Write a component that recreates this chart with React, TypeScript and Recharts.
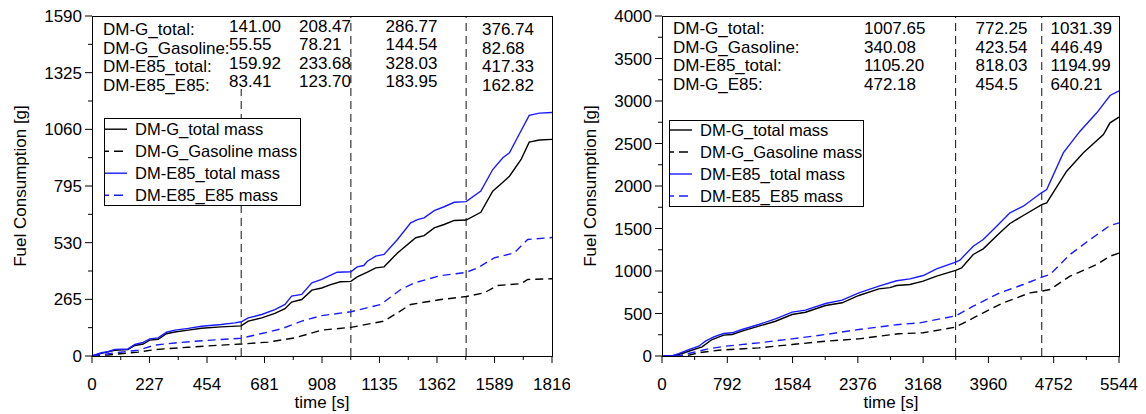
import React from 'react';
import { LineChart, Line, XAxis, YAxis, ReferenceLine } from 'recharts';

// ---- WLTC run (left panel) : [time s, mass g]
const wltcGTotal: [number, number][] = [
  [0, 0], [37, 12], [90, 27], [142, 30], [169, 49], [202, 56], [228, 74], [261, 78], [294, 104], [327, 112],
  [380, 121], [432, 130], [510, 136], [589, 141], [617, 163], [670, 178], [722, 199], [762, 221], [788, 252],
  [828, 264], [868, 308], [907, 318], [942, 334], [981, 347], [1022, 349], [1047, 370], [1087, 392], [1120, 412],
  [1153, 417], [1206, 482], [1278, 553], [1311, 563], [1351, 599], [1390, 615], [1430, 634], [1477, 636],
  [1535, 672], [1582, 771], [1622, 813], [1648, 841], [1694, 919], [1726, 1000], [1766, 1010], [1816, 1013],
];
const wltcGGasoline: [number, number][] = [
  [0, 0], [63, 5], [182, 18], [248, 30], [380, 41], [510, 51], [589, 56], [696, 65], [801, 85], [907, 121],
  [1022, 134], [1153, 163], [1206, 202], [1258, 241], [1377, 264], [1477, 278], [1548, 295], [1601, 330],
  [1694, 338], [1720, 358], [1816, 361],
];
const wltcE85Total: [number, number][] = [
  [0, 0], [37, 15], [63, 20], [90, 31], [142, 33], [169, 54], [202, 64], [228, 80], [261, 85], [294, 111],
  [327, 121], [380, 129], [432, 139], [510, 147], [564, 155], [589, 160], [617, 178], [670, 194], [722, 217],
  [762, 241], [788, 280], [828, 288], [868, 342], [907, 358], [934, 373], [968, 392], [1022, 394], [1047, 417],
  [1073, 423], [1087, 443], [1120, 467], [1153, 475], [1206, 545], [1258, 623], [1285, 638], [1311, 646],
  [1351, 680], [1390, 698], [1430, 719], [1477, 722], [1535, 771], [1582, 872], [1622, 927], [1648, 950],
  [1686, 1036], [1726, 1125], [1766, 1136], [1816, 1139],
];
const wltcE85E85: [number, number][] = [
  [0, 0], [90, 15], [182, 27], [248, 51], [327, 61], [406, 69], [510, 77], [589, 83], [670, 105], [748, 127],
  [828, 163], [907, 189], [1022, 207], [1140, 241], [1219, 311], [1272, 342], [1377, 376], [1477, 391],
  [1522, 412], [1588, 459], [1667, 482], [1720, 545], [1816, 554],
];
const wltcPhases = [589, 1022, 1477];
const wltcXTicks = [0, 227, 454, 681, 908, 1135, 1362, 1589, 1816];
const wltcYTicks = [0, 265, 530, 795, 1060, 1325, 1590];
const wltcTableRows = ['DM-G_total:', 'DM-G_Gasoline:', 'DM-E85_total:', 'DM-E85_E85:'];
const wltcTableCols = [
  ['141.00', '55.55', '159.92', '83.41'],
  ['208.47', '78.21', '233.68', '123.70'],
  ['286.77', '144.54', '328.03', '183.95'],
  ['376.74', '82.68', '417.33', '162.82'],
];

// ---- long run (right panel)
const longGTotal: [number, number][] = [
  [0, 0], [121, 0], [243, 29], [360, 68], [486, 108], [607, 194], [749, 245], [850, 253], [971, 292],
  [1174, 351], [1377, 409], [1578, 488], [1741, 515], [1984, 594], [2185, 626], [2388, 712], [2631, 790],
  [2764, 805], [2846, 829], [3007, 841], [3169, 880], [3331, 939], [3562, 1008], [3634, 1037], [3776, 1194],
  [3897, 1261], [4099, 1449], [4221, 1559], [4383, 1653], [4607, 1780], [4667, 1802], [4909, 2174],
  [5112, 2390], [5355, 2606], [5435, 2743], [5544, 2811],
];
const longGGasoline: [number, number][] = [
  [0, 0], [283, 0], [446, 38], [688, 68], [1174, 96], [1578, 135], [1984, 174], [2388, 202], [2874, 262],
  [3169, 273], [3562, 340], [3817, 468], [4140, 626], [4464, 743], [4607, 764], [4707, 782], [4950, 939],
  [5274, 1076], [5435, 1174], [5544, 1210],
];
const longE85Total: [number, number][] = [
  [0, 0], [121, 0], [203, 29], [324, 76], [446, 115], [527, 174], [628, 226], [749, 265], [850, 273],
  [971, 312], [1174, 371], [1377, 437], [1578, 516], [1741, 539], [1984, 618], [2185, 657], [2388, 743],
  [2631, 822], [2846, 885], [3007, 908], [3169, 947], [3331, 1026], [3562, 1105], [3614, 1128], [3776, 1292],
  [3897, 1371], [4060, 1527], [4221, 1685], [4383, 1762], [4607, 1923], [4667, 1959], [4868, 2390],
  [5071, 2645], [5274, 2861], [5435, 3065], [5544, 3118],
];
const longE85: [number, number][] = [
  [0, 0], [203, 0], [360, 38], [567, 85], [769, 115], [1174, 155], [1578, 202], [1984, 253], [2388, 312],
  [2874, 371], [3128, 390], [3562, 472], [3776, 586], [4099, 743], [4383, 841], [4607, 927], [4707, 959],
  [4950, 1194], [5193, 1371], [5435, 1535], [5544, 1567],
];
const longPhases = [3562, 4607];
const longXTicks = [0, 792, 1584, 2376, 3168, 3960, 4752, 5544];
const longYTicks = [0, 500, 1000, 1500, 2000, 2500, 3000, 3500, 4000];
const longTableRows = ['DM-G_total:', 'DM-G_Gasoline:', 'DM-E85_total:', 'DM-G_E85:'];
const longTableCols = [
  ['1007.65', '340.08', '1105.20', '472.18'],
  ['772.25', '423.54', '818.03', '454.5'],
  ['1031.39', '446.49', '1194.99', '640.21'],
];

const legendNames = ['DM-G_total mass', 'DM-G_Gasoline mass', 'DM-E85_total mass', 'DM-E85_E85 mass'];

const BLUE = '#1a1aff';
const FONT = '"Liberation Sans", Arial, sans-serif';
const FS = 17;
const LEGEND_FS = 16.5;
const seriesStyle = [
  { stroke: '#000', dash: undefined },
  { stroke: '#000', dash: '8 5' },
  { stroke: BLUE, dash: undefined },
  { stroke: BLUE, dash: '8 5' },
];

const toPts = (arr: [number, number][]) => arr.map(([t, m]) => ({ t, m }));

const withMinors = (majors: number[]) => {
  const out: number[] = [];
  majors.forEach((v, i) => {
    out.push(v);
    if (i < majors.length - 1) out.push((v + majors[i + 1]) / 2);
  });
  return out;
};

const XTick = ({ x, y, payload, majors }: any) => {
  const major = majors.includes(payload.value);
  return (
    <g>
      <line x1={x} y1={y} x2={x} y2={y + (major ? 7 : 4)} stroke="#000" strokeWidth={1} />
      {major && (
        <text x={x} y={y + 34} textAnchor="middle" fontSize={FS} fontFamily={FONT} fill="#000">
          {payload.value}
        </text>
      )}
    </g>
  );
};

const YTick = ({ x, y, payload, majors }: any) => {
  const major = majors.includes(payload.value);
  return (
    <g>
      <line x1={x} y1={y} x2={x - (major ? 7 : 4)} y2={y} stroke="#000" strokeWidth={1} />
      {major && (
        <text x={x - 10} y={y + 6} textAnchor="end" fontSize={FS} fontFamily={FONT} fill="#000">
          {payload.value}
        </text>
      )}
    </g>
  );
};

interface PanelProps {
  width: number;
  rightMargin: number;
  series: [number, number][][];
  phases: number[];
  xTicks: number[];
  yTicks: number[];
}

const Panel = ({ width, rightMargin, series, phases, xTicks, yTicks }: PanelProps) => (
  <LineChart width={width} height={414} margin={{ top: 16, right: rightMargin, bottom: 0, left: 0 }}>
    <XAxis
      type="number"
      dataKey="t"
      domain={[xTicks[0], xTicks[xTicks.length - 1]]}
      ticks={withMinors(xTicks)}
      interval={0}
      height={58}
      axisLine={false}
      tickLine={false}
      tickSize={0}
      tickMargin={0}
      tick={(p: any) => <XTick {...p} majors={xTicks} />}
    />
    <YAxis
      type="number"
      domain={[yTicks[0], yTicks[yTicks.length - 1]]}
      ticks={withMinors(yTicks)}
      interval={0}
      width={92}
      axisLine={false}
      tickLine={false}
      tickSize={0}
      tickMargin={0}
      tick={(p: any) => <YTick {...p} majors={yTicks} />}
    />
    {phases.map((t) => (
      <ReferenceLine key={t} x={t} stroke="#111" strokeWidth={1} strokeDasharray="8 5" />
    ))}
    {series.map((s, i) => (
      <Line
        key={legendNames[i]}
        data={toPts(s)}
        dataKey="m"
        type="linear"
        dot={false}
        stroke={seriesStyle[i].stroke}
        strokeDasharray={seriesStyle[i].dash}
        strokeWidth={1.4}
        isAnimationActive={false}
      />
    ))}
  </LineChart>
);

const Legend = ({ x, y, w, h, rows }: { x: number; y: number; w: number; h: number; rows: number[] }) => (
  <g>
    <rect x={x + 0.5} y={y + 0.5} width={w} height={h} fill="#fff" stroke="#000" strokeWidth={1} />
    {legendNames.map((n, i) => (
      <g key={n}>
        <line
          x1={x + 1}
          x2={x + 23}
          y1={rows[i] - 5.5}
          y2={rows[i] - 5.5}
          stroke={seriesStyle[i].stroke}
          strokeWidth={1.4}
          strokeDasharray={seriesStyle[i].dash ? '9 5' : undefined}
          strokeDashoffset={seriesStyle[i].dash ? 5 : undefined}
        />
        <text x={x + 31} y={rows[i]} fontSize={LEGEND_FS} fontFamily={FONT} fill="#000">
          {n}
        </text>
      </g>
    ))}
  </g>
);

export default function App() {
  const txt = { fontSize: FS, fontFamily: FONT, fill: '#000' };
  const leftRowsA = [31.5, 50, 68.5, 87];
  const leftRowsB = [35, 53.5, 72, 90.5];
  const leftColX = [229, 299, 385.5, 482];
  const rightRows = [34, 52.5, 71, 89.5];
  const rightColX = [864, 975.5, 1050.5];
  return (
    <div style={{ position: 'absolute', left: 0, top: 0, width: 1146, height: 414, background: '#fff' }}>
      <div style={{ position: 'absolute', left: 0, top: 0 }}>
        <Panel
          width={570}
          rightMargin={18}
          series={[wltcGTotal, wltcGGasoline, wltcE85Total, wltcE85E85]}
          phases={wltcPhases}
          xTicks={wltcXTicks}
          yTicks={wltcYTicks}
        />
      </div>
      <div style={{ position: 'absolute', left: 570, top: 0 }}>
        <Panel
          width={576}
          rightMargin={27}
          series={[longGTotal, longGGasoline, longE85Total, longE85]}
          phases={longPhases}
          xTicks={longXTicks}
          yTicks={longYTicks}
        />
      </div>
      <svg width={1146} height={414} style={{ position: 'absolute', left: 0, top: 0, pointerEvents: 'none' }}>
        {/* plot frames */}
        <rect x={92.5} y={16.5} width={460} height={340} fill="none" stroke="#000" />
        <rect x={662.5} y={16.5} width={457} height={340} fill="none" stroke="#000" />

        {/* axis titles */}
        <text {...txt} x={322} y={408} textAnchor="middle">time [s]</text>
        <text {...txt} x={891} y={408} textAnchor="middle">time [s]</text>
        <text {...txt} transform="translate(26,186) rotate(-90)" textAnchor="middle">Fuel Consumption [g]</text>
        <text {...txt} transform="translate(596,186) rotate(-90)" textAnchor="middle">Fuel Consumption [g]</text>

        {/* left summary table */}
        <rect x={235} y={17} width={12} height={72} fill="#fff" />
        {wltcTableRows.map((r, i) => (
          <text key={r} {...txt} x={103} y={leftRowsB[i]}>{r}</text>
        ))}
        {wltcTableCols.map((col, c) =>
          col.map((v, i) => (
            <text key={`${c}-${i}`} {...txt} x={leftColX[c]} y={c === 3 ? leftRowsB[i] : leftRowsA[i]}>{v}</text>
          ))
        )}

        {/* right summary table */}
        {longTableRows.map((r, i) => (
          <text key={r} {...txt} x={673} y={rightRows[i]}>{r}</text>
        ))}
        {longTableCols.map((col, c) =>
          col.map((v, i) => (
            <text key={`${c}-${i}`} {...txt} x={rightColX[c]} y={rightRows[i]}>{v}</text>
          ))
        )}

        <Legend x={104} y={118} w={196} h={87} rows={[134.7, 156.7, 178.7, 200.7]} />
        <Legend x={669} y={120} w={194} h={86} rows={[135.5, 157.5, 179.5, 201.5]} />
      </svg>
    </div>
  );
}
